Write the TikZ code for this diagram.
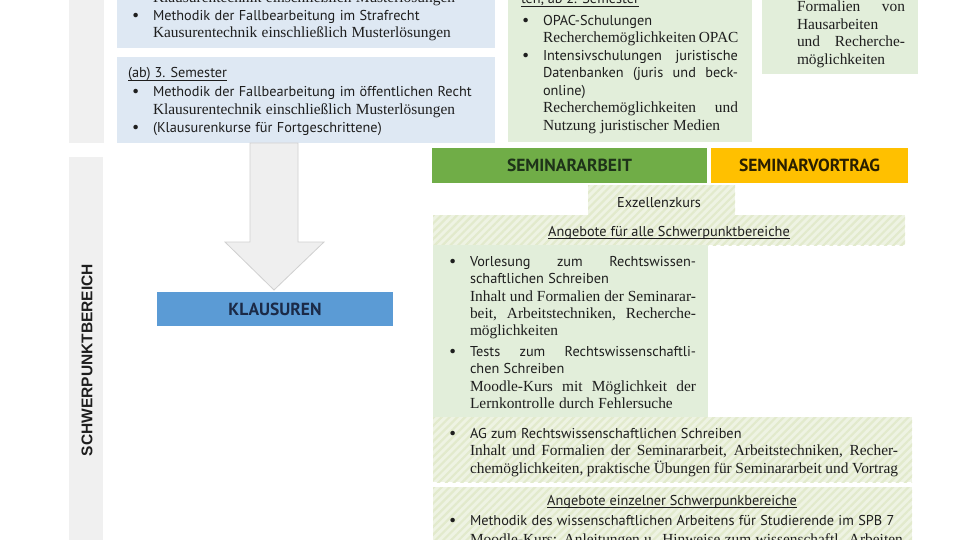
\documentclass[tikz,border=0pt]{standalone}
\usepackage{fontspec}
\setmainfont{Liberation Serif}
\setsansfont{PT Sans}
\newfontfamily\bandfont{Liberation Sans}
\usetikzlibrary{patterns.meta}
\definecolor{greyBand}{HTML}{F0F0F0}
\definecolor{blueL}{HTML}{DEE8F3}
\definecolor{greenL}{HTML}{E2EEDA}
\definecolor{hatchBg}{HTML}{EEF3E3}
\definecolor{hatchLine}{HTML}{E2EACC}
\definecolor{klBlue}{HTML}{5B9BD5}
\definecolor{klText}{HTML}{1B2A47}
\definecolor{saGreen}{HTML}{70AD47}
\definecolor{saText}{HTML}{1E3319}
\definecolor{svOrange}{HTML}{FFC000}
\definecolor{svText}{HTML}{2A1F00}
\definecolor{arrFill}{HTML}{EFEFEF}
\definecolor{arrLine}{HTML}{D0D0D0}
\definecolor{ink}{HTML}{1E1E1E}
\newlength{\tw}
\newcommand{\sa}{\sffamily\fontsize{14.3}{17.7}\selectfont}
\newcommand{\se}{\rmfamily\fontsize{15.4}{17.7}\selectfont}
% justified line: #1 font switch, #2 text
\newcommand{\Lj}[2]{\noindent\hbox to \tw{#1\spaceskip=\fontdimen2\font plus 1fil minus .3\fontdimen2\font\relax #2}\par}
% ragged line
\newcommand{\Lr}[2]{\noindent\hbox{#1#2}\par}
\newcommand{\Bu}{\llap{\makebox[21pt][l]{\sffamily\fontsize{16}{16}\selectfont\textbullet}}}
\newcommand{\uln}[1]{\setbox0\hbox{#1}\rlap{\rule[-2.4pt]{\wd0}{0.8pt}}\box0}
\begin{document}
\begin{tikzpicture}[x=1pt,y=-1pt,
  box/.style={anchor=north west, inner sep=0pt, outer sep=0pt, draw=none},
  hatched/.style={box, fill=hatchBg, postaction={pattern={Lines[angle=45,distance=5.5pt,line width=2.2pt]}, pattern color=hatchLine}},
  txt/.style={anchor=base west, inner sep=0pt, outer sep=0pt, text=ink},
  hdr/.style={inner sep=0pt, outer sep=0pt, font=\bfseries\sffamily\fontsize{17.5}{20}\selectfont}]
\useasboundingbox (0,0) rectangle (960,540);
\clip (0,0) rectangle (960,540);
\fill[white] (0,0) rectangle (960,540);

% left grey bands
\node[box, fill=greyBand, minimum width=35pt, minimum height=153pt] (band1) at (69,-10) {};
\node[box, fill=greyBand, minimum width=34pt, minimum height=393pt] (band2) at (69,157) {};
\node[rotate=90, text=ink, font=\bandfont\bfseries\fontsize{15.5}{18}\selectfont] (bandtxt) at (87,360) {SCHWERPUNKTBEREICH};

% top blue boxes
\node[box, fill=blueL, minimum width=378pt, minimum height=58pt] (b1) at (117,-10) {};
\node[box, fill=blueL, minimum width=378pt, minimum height=86pt] (b2) at (117,57) {};
% top green boxes
\node[box, fill=greenL, minimum width=244pt, minimum height=152pt] (g1) at (508,-10) {};
\node[box, fill=greenL, minimum width=156pt, minimum height=84pt] (g2) at (762,-10) {};

% big arrow
\draw[fill=arrFill, draw=arrLine, line width=0.8pt, line join=miter]
  (250,143) -- (298,143) -- (298,242) -- (324,242) -- (274,290) -- (225,242) -- (250,242) -- cycle;

% KLAUSUREN
\node[hdr, fill=klBlue, text=klText, minimum width=236pt, minimum height=34pt] (kl) at (275,309) {KLAUSUREN};
% Seminar headers
\node[hdr, fill=saGreen, text=saText, minimum width=275pt, minimum height=35pt] (sa) at (569.5,165.5) {SEMINARARBEIT};
\node[hdr, fill=svOrange, text=svText, minimum width=197pt, minimum height=35pt] (sv) at (809.5,165.5) {SEMINARVORTRAG};

% hatched and green boxes on the right
\node[hatched, minimum width=147pt, minimum height=30pt] (ex) at (588,185) {};
\node[hatched, minimum width=472pt, minimum height=30pt] (alle) at (433,215) {};
\node[box, fill=greenL, minimum width=275pt, minimum height=172pt] (g3) at (433,245) {};
\node[hatched, minimum width=479pt, minimum height=65pt] (ag) at (433,417) {};
\node[hatched, minimum width=479pt, minimum height=70pt] (einz) at (433,487) {};

% texts: blue box 1
\node[txt, text width=330pt, font=\fontsize{13}{17.2}\selectfont] (t1) at (153,3) {%
\Lr{\se}{Klausurentechnik einschließlich Musterlösungen}%
\Lr{\sa}{\Bu Methodik der Fallbearbeitung im Strafrecht}%
\Lr{\se}{Kausurentechnik einschließlich Musterlösungen}};

% blue box 2
\node[txt] (h2) at (128,78) {\sa\uln{(ab) 3. Semester}};
\node[txt, text width=340pt, font=\fontsize{13}{17.9}\selectfont] (t2) at (153,96.5) {%
\Lr{\sa}{\Bu Methodik der Fallbearbeitung im öffentlichen Recht}%
\Lr{\se}{Klausurentechnik einschließlich Musterlösungen}%
\Lr{\sa}{\Bu (Klausurenkurse für Fortgeschrittene)}};

% middle green
\node[txt] (h3) at (521,4) {\sa\uln{ten, ab 2. Semester}};
\node[txt, text width=195pt, font=\fontsize{13}{17.5}\selectfont] (t3) at (543,25.5) {%
\tw=195pt\relax
\Lr{\sa}{\Bu OPAC-Schulungen}%
\Lj{\se}{Recherchemöglichkeiten OPAC}%
\Lj{\sa}{\Bu Intensivschulungen juristische}%
\Lj{\sa}{Datenbanken (juris und beck-}%
\Lr{\sa}{online)}%
\Lj{\se}{Recherchemöglichkeiten und}%
\Lr{\se}{Nutzung juristischer Medien}};

% top right green
\node[txt, text width=108pt, font=\fontsize{13}{17.4}\selectfont] (t4) at (797,12) {%
\tw=108pt\relax
\Lj{\se}{Formalien von}%
\Lr{\se}{Hausarbeiten}%
\Lj{\se}{und Recherche-}%
\Lr{\se}{möglichkeiten}};

% centered headers
\node[txt, anchor=base] (exz) at (659,207) {\sa Exzellenzkurs};
\node[txt, anchor=base] (hal) at (669,236) {\sa\uln{Angebote für alle Schwerpunktbereiche}};

% big green
\node[txt, text width=226pt, font=\fontsize{13}{17.2}\selectfont] (t5) at (470,266.7) {%
\tw=226pt\relax
\Lj{\sa}{\Bu Vorlesung zum Rechtswissen-}%
\Lr{\sa}{schaftlichen Schreiben}%
\Lj{\se}{Inhalt und Formalien der Seminarar-}%
\Lj{\se}{beit, Arbeitstechniken, Recherche-}%
\Lr{\se}{möglichkeiten}%
\vspace{4pt}%
\Lj{\sa}{\Bu Tests zum Rechtswissenschaftli-}%
\Lr{\sa}{chen Schreiben}%
\Lj{\se}{Moodle-Kurs mit Möglichkeit der}%
\Lr{\se}{Lernkontrolle durch Fehlersuche}};

% AG
\node[txt, text width=428pt, font=\fontsize{13}{17.5}\selectfont] (t6) at (470,438) {%
\tw=428pt\relax
\Lr{\sa}{\Bu AG zum Rechtswissenschaftlichen Schreiben}%
\Lj{\se}{Inhalt und Formalien der Seminararbeit, Arbeitstechniken, Recher-}%
\Lj{\se}{chemöglichkeiten, praktische Übungen für Seminararbeit und Vortrag}};

% einzelne
\node[txt, anchor=base] (hei) at (672,505) {\sa\uln{Angebote einzelner Schwerpunkbereiche}};
\node[txt, text width=428pt, font=\fontsize{13}{19.5}\selectfont] (t7) at (470,525) {%
\Lr{\sa}{\Bu Methodik des wissenschaftlichen Arbeitens für Studierende im SPB 7}%
\Lr{\se}{Moodle-Kurs: Anleitungen u. Hinweise zum wissenschaftl. Arbeiten}};
\end{tikzpicture}
\end{document}
